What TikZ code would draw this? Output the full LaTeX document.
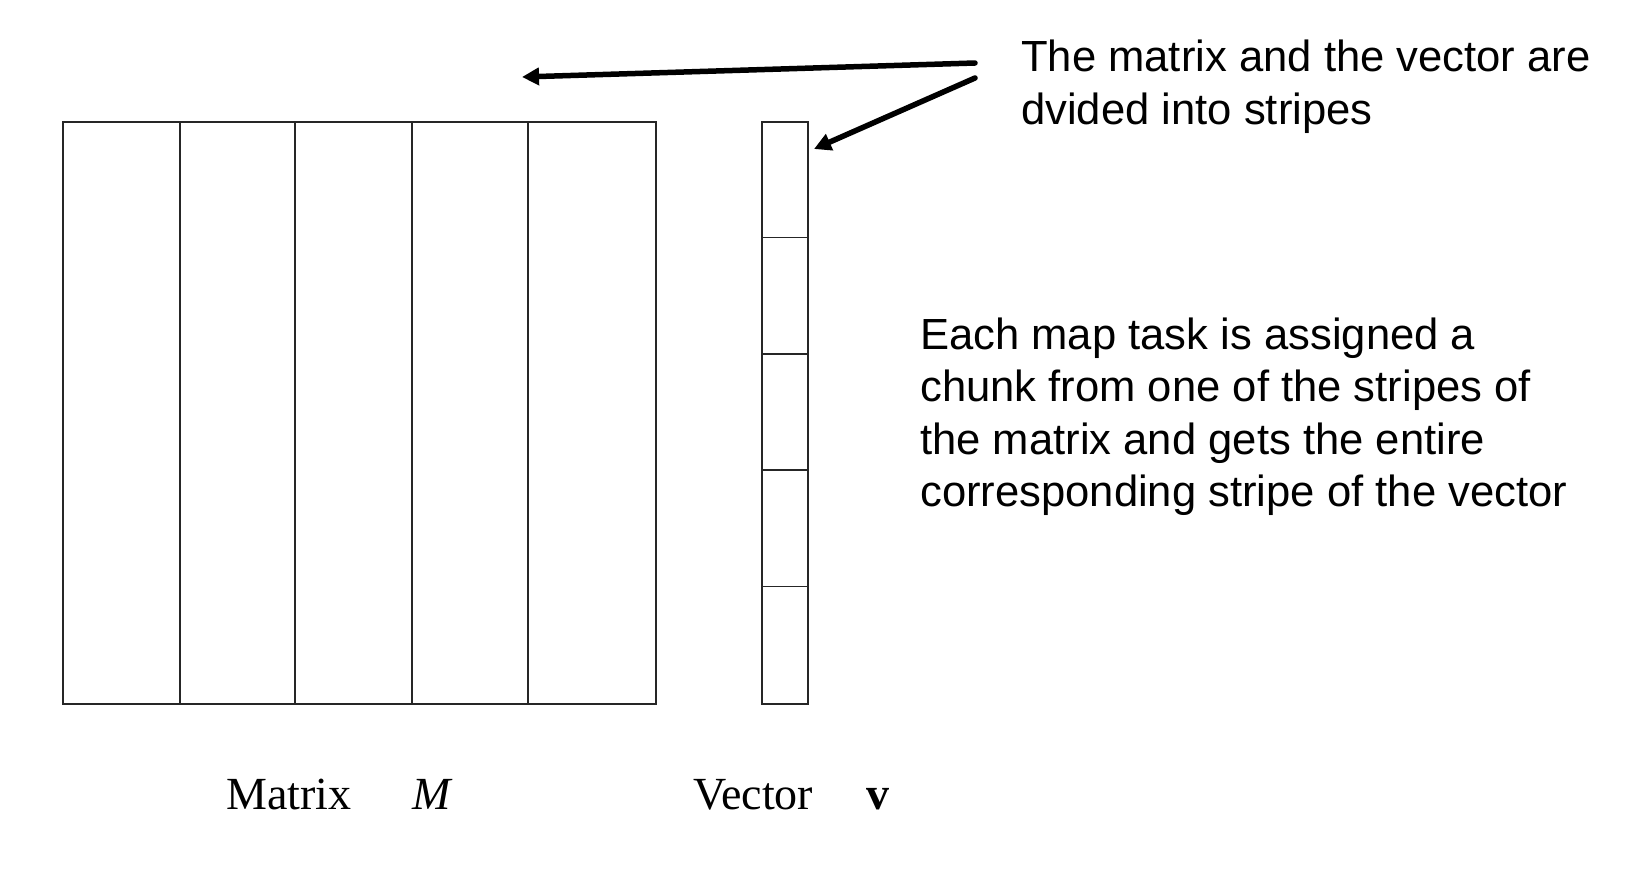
\documentclass[tikz,border=0pt]{standalone}
\usepackage{fontspec}
\setmainfont{Liberation Sans}
\newfontfamily\seriffont{Liberation Serif}
\usetikzlibrary{arrows.meta}
\begin{document}
\begin{tikzpicture}[x=1pt,y=-1pt,
  thin box/.style={draw=black!85,line width=1.6pt,inner sep=0pt},
  grid line/.style={draw=black!85,line width=1.6pt},
  pointer/.style={line width=5.5pt,line cap=round,-{Triangle[length=17pt,width=17pt]}},
  sanstext/.style={anchor=base west,inner sep=0pt,font=\fontsize{43.6}{52}\selectfont},
  seriftext/.style={anchor=base west,inner sep=0pt,font=\seriffont\fontsize{46}{54}\selectfont}]
\useasboundingbox (0,0) rectangle (1648,883);
\fill[white] (0,0) rectangle (1648,883);
% matrix
\node[thin box,minimum width=593pt,minimum height=582pt,anchor=north west] (M) at (62,121) {};
\foreach \x in {180,295,412,528} \draw[grid line] (\x,121) -- (\x,703);
% vector
\node[thin box,minimum width=46pt,minimum height=582pt,anchor=north west] (V) at (761,121) {};
\foreach \y in {237.5,354,470,586.5} \draw[grid line] (761,\y) -- (807,\y);
% texts
\node[sanstext] (t1) at (1021,71) {The matrix and the vector are};
\node[sanstext] (t2) at (1021,124) {dvided into stripes};
\node[sanstext] (e1) at (920,349) {Each map task is assigned a};
\node[sanstext] (e2) at (920,401) {chunk from one of the stripes of};
\node[sanstext] (e3) at (920,454) {the matrix and gets the entire};
\node[sanstext] (e4) at (920,506) {corresponding stripe of the vector};
\node[seriftext] (lm) at (226,809) {Matrix};
\node[seriftext] (lmM) at (412,809) {\itshape M};
\node[seriftext] (lv) at (693,809) {Vector};
\node[seriftext] (lvv) at (866,809) {\bfseries v};
% arrows
\coordinate (s1) at (975,63);
\coordinate (s2) at (975,78);
\coordinate (a1) at (522,77);
\coordinate (a2) at (814,149);
\draw[pointer] (s1) -- (a1);
\draw[pointer] (s2) -- (a2);
\end{tikzpicture}
\end{document}
